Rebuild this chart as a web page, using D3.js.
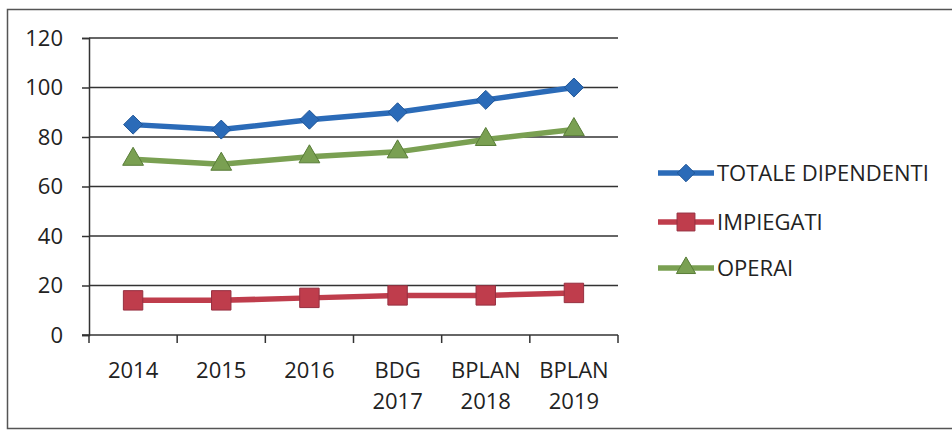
<!DOCTYPE html>
<html>
<head>
<meta charset="utf-8">
<script src="https://cdn.jsdelivr.net/npm/d3@7"></script>
<style>
  body { margin: 0; background: #fff; }
  text { font-family: "Open Sans", "Liberation Sans", sans-serif; fill: #222; }
</style>
</head>
<body>
<script>
// chart data
let categories = [["2014"], ["2015"], ["2016"], ["BDG", "2017"], ["BPLAN", "2018"], ["BPLAN", "2019"]]
let totale = [85, 83, 87, 90, 95, 100]
let impiegati = [14, 14, 15, 16, 16, 17]
let operai = [71, 69, 72, 74, 79, 83]
let yTicks = [0, 20, 40, 60, 80, 100, 120]
let seriesNames = ["TOTALE DIPENDENTI", "IMPIEGATI", "OPERAI"]

let width = 952
let height = 430
let margin = ({top: 38, right: 334, bottom: 95, left: 89})

let series = [
  {name: seriesNames[0], values: totale, color: "#2b6bb8", dark: "#1f5597", symbol: d3.symbolDiamond2, size: 230},
  {name: seriesNames[1], values: impiegati, color: "#bf3d4c", dark: "#963040", symbol: d3.symbolSquare2, size: 480},
  {name: seriesNames[2], values: operai, color: "#7aa052", dark: "#587c37", symbol: d3.symbolTriangle2, size: 310}
]

let keys = categories.map(c => c.join(" "))

let x = d3.scaleBand()
  .domain(keys)
  .range([margin.left, width - margin.right])

let y = d3.scaleLinear()
  .domain([0, 120])
  .range([height - margin.bottom, margin.top])

let svg = d3.select("body").append("svg")
  .attr("width", width)
  .attr("height", height)

// outer frame
svg.append("path")
  .attr("d", `M${width + 5},9.5 H7.5 V428.5 H${width + 5}`)
  .attr("fill", "none")
  .attr("stroke", "#555")
  .attr("stroke-width", 1.5)

// gridlines + y axis labels
let yAxis = svg.append("g")
  .attr("transform", `translate(${margin.left},0)`)
  .call(d3.axisLeft(y).tickValues(yTicks).tickSize(7).tickPadding(19))
yAxis.select(".domain").attr("stroke", "#333").attr("stroke-width", 1.5)
yAxis.selectAll(".tick line").attr("stroke", "#333").attr("stroke-width", 1.5)
yAxis.selectAll(".tick text").attr("font-size", 22).attr("fill", "#222")
  .style("font-family", "'Open Sans', 'Liberation Sans', sans-serif")

svg.append("g")
  .selectAll("line")
  .data(yTicks.filter(d => d > 0))
  .join("line")
  .attr("x1", margin.left)
  .attr("x2", width - margin.right)
  .attr("y1", d => y(d))
  .attr("y2", d => y(d))
  .attr("stroke", "#333")
  .attr("stroke-width", 1.5)

// x axis
let xAxis = svg.append("g")
  .attr("transform", `translate(0,${y(0)})`)
xAxis.append("line")
  .attr("x1", margin.left - 7)
  .attr("x2", width - margin.right)
  .attr("stroke", "#333")
  .attr("stroke-width", 1.5)
let xEdges = keys.map(k => x(k)).concat([width - margin.right])
xAxis.selectAll(".xt")
  .data(xEdges)
  .join("line")
  .attr("class", "xt")
  .attr("x1", d => d)
  .attr("x2", d => d)
  .attr("y1", 0)
  .attr("y2", 8)
  .attr("stroke", "#333")
  .attr("stroke-width", 1.5)

let xl = xAxis.selectAll(".xl")
  .data(categories)
  .join("text")
  .attr("class", "xl")
  .attr("text-anchor", "middle")
  .attr("font-size", 22)
  .attr("transform", (d, i) => `translate(${x(keys[i]) + x.bandwidth() / 2},43)`)
xl.selectAll("tspan")
  .data(d => d)
  .join("tspan")
  .attr("x", 0)
  .attr("dy", (d, i) => i == 0 ? 0 : 31)
  .text(d => d)

// lines + markers
let line = d3.line()
  .x((d, i) => x(keys[i]) + x.bandwidth() / 2)
  .y(d => y(d))

series.forEach(s => {
  svg.append("path")
    .attr("d", line(s.values))
    .attr("fill", "none")
    .attr("stroke", s.color)
    .attr("stroke-width", 5.5)
    .attr("stroke-linejoin", "round")

  svg.append("g")
    .selectAll("path")
    .data(s.values)
    .join("path")
    .attr("transform", (d, i) => `translate(${x(keys[i]) + x.bandwidth() / 2},${y(d)})`)
    .attr("d", d3.symbol().type(s.symbol).size(s.size))
    .attr("fill", s.color)
    .attr("stroke", s.dark)
    .attr("stroke-width", 1)
})

// legend
let legend = svg.append("g")
  .attr("transform", "translate(658,173)")
let rows = legend.selectAll("g")
  .data(series)
  .join("g")
  .attr("transform", (d, i) => `translate(0,${[0, 49, 95][i]})`)
rows.append("line")
  .attr("x1", 0)
  .attr("x2", 56)
  .attr("stroke", d => d.color)
  .attr("stroke-width", 5.5)
rows.append("path")
  .attr("transform", "translate(28,0)")
  .attr("d", d => d3.symbol().type(d.symbol).size(d.size * 0.85)())
  .attr("fill", d => d.color)
  .attr("stroke", d => d.dark)
rows.append("text")
  .attr("x", 59)
  .attr("dy", "0.36em")
  .attr("font-size", 22)
  .text(d => d.name)
</script>
</body>
</html>
